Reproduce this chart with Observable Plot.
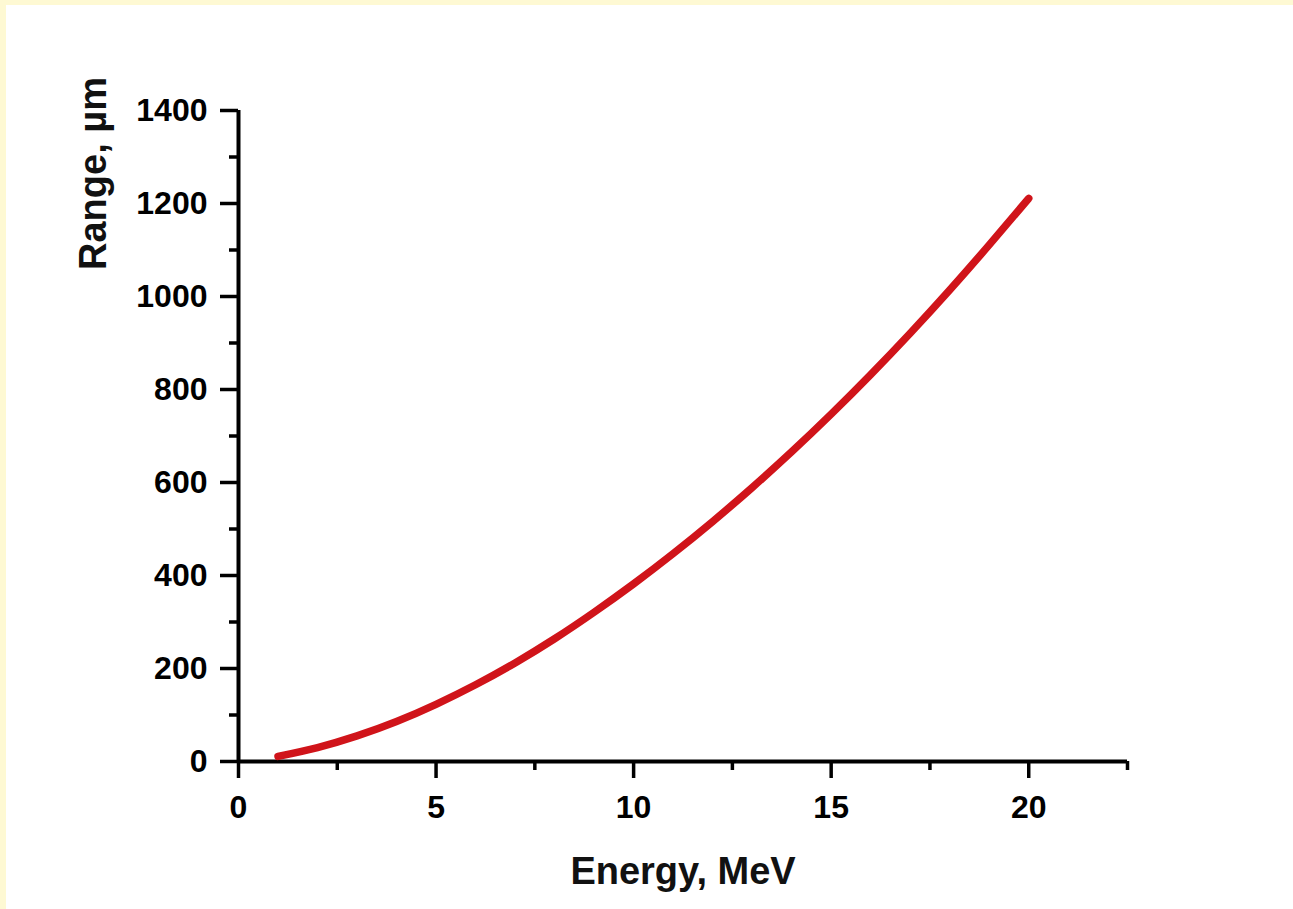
<!DOCTYPE html>
<html><head><meta charset="utf-8">
<script src="https://cdn.jsdelivr.net/npm/d3@7"></script>
<script src="https://cdn.jsdelivr.net/npm/@observablehq/plot@0.6"></script>
<style>
html,body{margin:0;padding:0;background:#fef9d3;}
#wrap{position:relative;width:1293px;height:909px;overflow:hidden;}
#paper{position:absolute;left:6px;top:5px;right:0;bottom:0;background:#fff;}
#chart{position:absolute;left:0;top:0;}
</style></head><body>
<div id="wrap"><div id="paper"></div><div id="chart"></div></div>
<script>
const energy = [1,2,3,4,5,6,7,8,9,10,11,12,13,14,15,16,17,18,19,20];
const range = [11,30,55,86,123,165,212,264,321,382,447,516,589,666,747,832,921,1014,1111,1211];
const xMajorTicks = [0,5,10,15,20];
const xMinorTicks = [2.5,7.5,12.5,17.5,22.5];
const yMajorTicks = [0,200,400,600,800,1000,1200,1400];
const yMinorTicks = [100,300,500,700,900,1100,1300];
const xTitle = "Energy, MeV";
const yTitle = "Range, µm";

const data = energy.map((e,i)=>({energy:e, range:range[i]}));
const font = "'Liberation Sans', Arial, sans-serif";

const chart = Plot.plot({
  width:1293, height:909,
  marginLeft:238, marginRight:166, marginTop:110, marginBottom:148,
  style:{background:"transparent", fontFamily:font, fontWeight:"bold", color:"#000", overflow:"visible"},
  x:{domain:[0,22.5]},
  y:{domain:[0,1400]},
  marks:[
    Plot.ruleY([0],{stroke:"#000",strokeWidth:4}),
    Plot.ruleX([0],{stroke:"#000",strokeWidth:4}),
    Plot.axisX({ticks:xMajorTicks, tickSize:17, tickPadding:17, stroke:"#000", strokeWidth:3.5, fontSize:32, fontWeight:"bold", fill:"#000", label:null, tickFormat:d=>String(d)}),
    Plot.axisX({ticks:xMinorTicks, tickSize:9, stroke:"#000", strokeWidth:3.5, text:null, label:null}),
    Plot.axisY({ticks:yMajorTicks, tickSize:18, tickPadding:13, stroke:"#000", strokeWidth:3.5, fontSize:32, fontWeight:"bold", fill:"#000", label:null, tickFormat:d=>String(d)}),
    Plot.axisY({ticks:yMinorTicks, tickSize:9, stroke:"#000", strokeWidth:3.5, text:null, label:null}),
    Plot.line(data,{x:"energy",y:"range",stroke:"#d0141a",strokeWidth:7.5,curve:"natural",strokeLinecap:"round"}),
    Plot.text([xTitle],{text:d=>d, frameAnchor:"bottom", dy:110, fontSize:38, fontWeight:"bold", lineAnchor:"middle", fill:"#111"}),
    Plot.text([yTitle],{text:d=>d, frameAnchor:"top-left", dx:-145, dy:63, rotate:-90, fontSize:38, fontWeight:"bold", lineAnchor:"middle", textAnchor:"middle", fill:"#111"})
  ]
});
document.getElementById("chart").appendChild(chart);
</script>
</body></html>
